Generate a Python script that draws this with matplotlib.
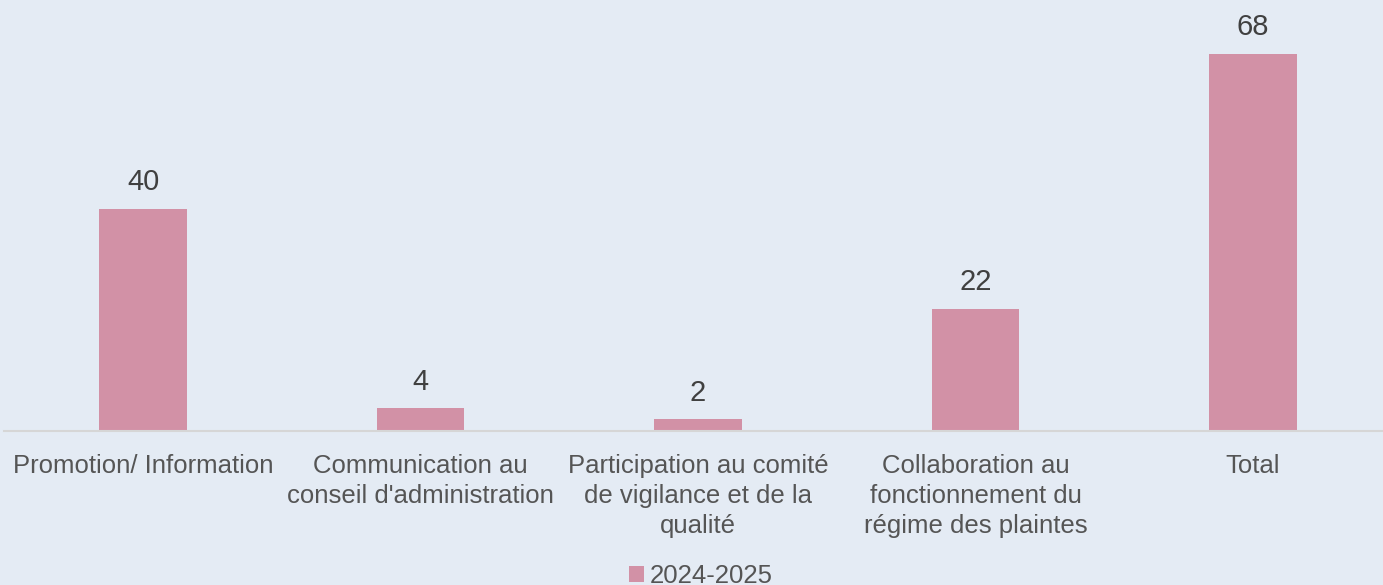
import matplotlib.pyplot as plt
import numpy as np

categories = [
    "Promotion/ Information",
    "Communication au\nconseil d'administration",
    "Participation au comité\nde vigilance et de la\nqualité",
    "Collaboration au\nfonctionnement du\nrégime des plaintes",
    "Total",
]
values = [40, 4, 2, 22, 68]
series_name = "2024-2025"

bg_color = '#e4ebf4'
bar_color = '#d291a6'
axis_color = '#d6d6d6'
label_color = '#555555'
value_color = '#404040'

plt.rcParams['font.family'] = ['Liberation Sans', 'DejaVu Sans']

fig = plt.figure(figsize=(13.83, 5.85), dpi=100)
fig.patch.set_facecolor(bg_color)

# axes spans 5 category slots of ~277.5 px, right end runs off the canvas
left_px, slot_px, base_px = 4.25, 277.5, 430.5
ax = fig.add_axes([left_px / 1383, (585 - base_px) / 585,
                   5 * slot_px / 1383, base_px / 585])
ax.set_facecolor(bg_color)

x = np.arange(len(categories))
bars = ax.bar(x, values, width=0.315, color=bar_color, label=series_name, zorder=2)

for xi, v in zip(x, values):
    ax.annotate(str(v), (xi, v), xytext=(0, 9), textcoords='offset points',
                ha='center', va='bottom', fontsize=21, color=value_color)

ax.set_xlim(-0.5, len(categories) - 0.5)
ax.set_ylim(0, base_px / 5.54)
ax.set_xticks(x)
ax.set_xticklabels(categories, fontsize=18.5, color=label_color, linespacing=1.32, va='top')
ax.tick_params(axis='x', length=0, pad=17)
ax.set_yticks([])

for side in ['top', 'right', 'left']:
    ax.spines[side].set_visible(False)
ax.spines['bottom'].set_color(axis_color)
ax.spines['bottom'].set_linewidth(1.5)

leg = fig.legend(loc='center', bbox_to_anchor=(0.507, 9 / 585), frameon=False,
                 fontsize=18.5, handlelength=0.55, handleheight=0.55,
                 handletextpad=0.25, labelcolor=label_color)

fig.savefig('out.png', dpi=100, facecolor=bg_color)
